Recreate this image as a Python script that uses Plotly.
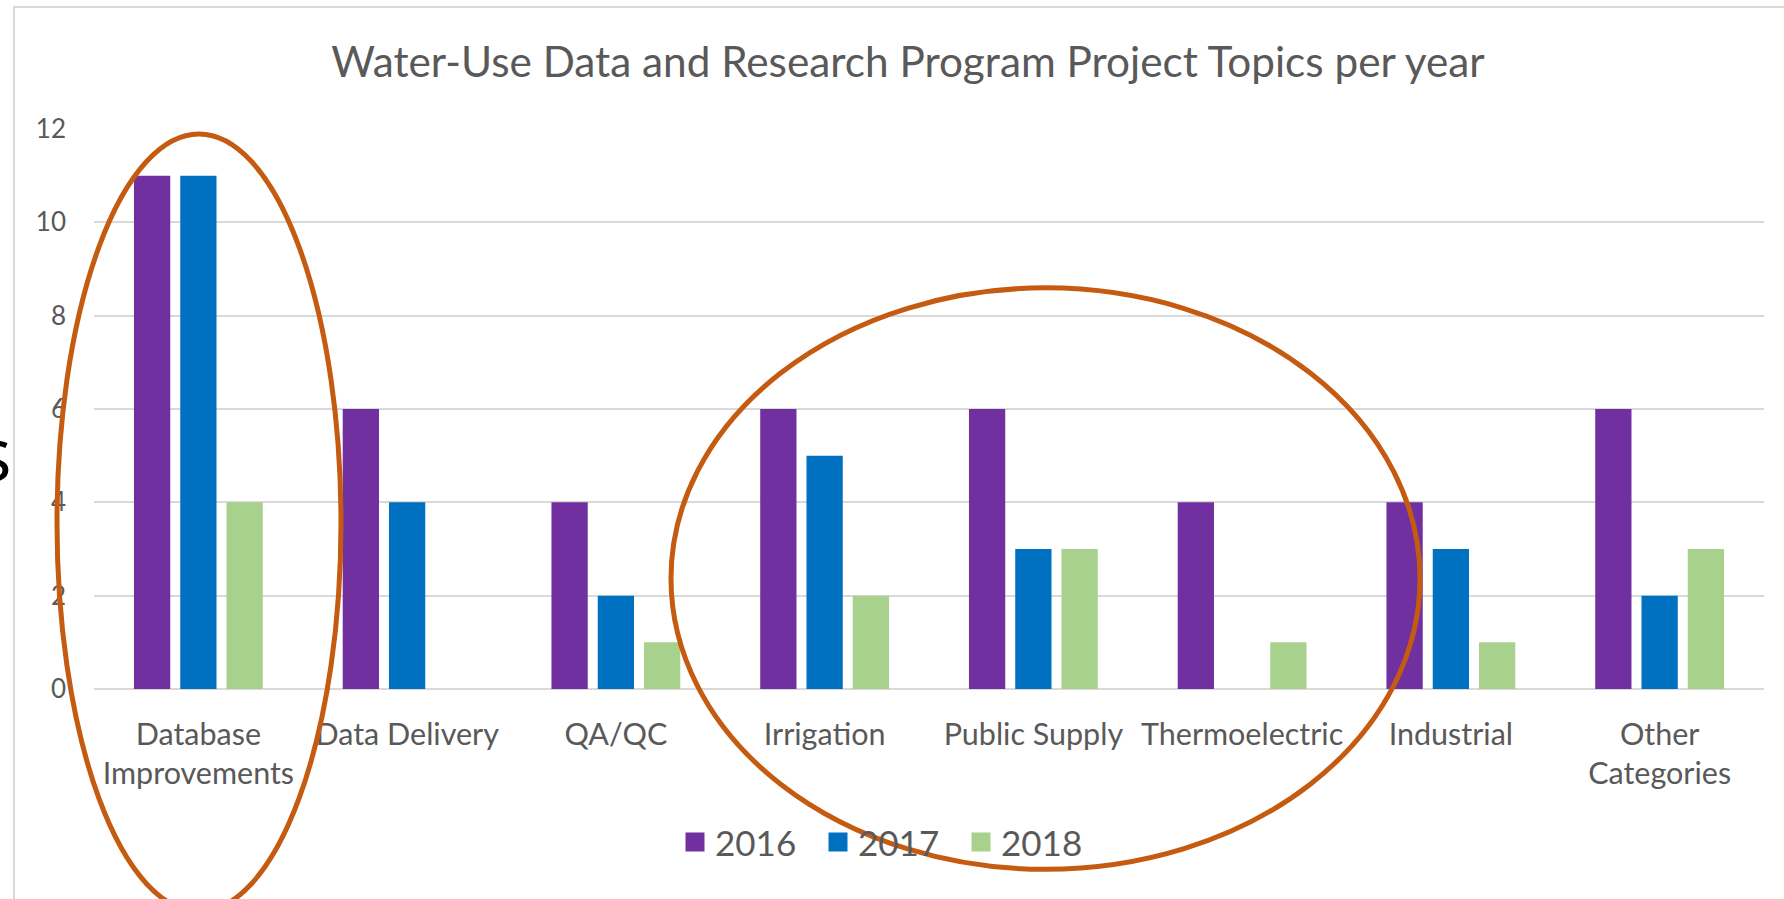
import plotly.graph_objects as go

categories = ["Database<br>Improvements", "Data Delivery", "QA/QC", "Irrigation",
              "Public Supply", "Thermoelectric", "Industrial", "Other<br>Categories"]
years = ["2016", "2017", "2018"]
v2016 = [11, 6, 4, 6, 6, 4, 4, 6]
v2017 = [11, 4, 2, 5, 3, 0, 3, 2]
v2018 = [4, 0, 1, 2, 3, 1, 1, 3]
colors = ["#7030A0", "#0070C0", "#A9D18E"]
title_text = "Water-Use Data and Research Program Project Topics per year"

FONT = "Lato"
TXT = "#595959"
W, H = 1784, 899
L, R, T, B = 94, 1764, 129, 689.5  # plot area in px

def px_x(x):
    return (x - L) / (R - L)

def px_y(y):
    return (B - y) / (B - T)

fig = go.Figure()
for name, vals, col in zip(years, [v2016, v2017, v2018], colors):
    fig.add_trace(go.Bar(x=categories, y=vals, name=name, marker_color=col,
                         marker_line_width=0, showlegend=False))
    fig.add_trace(go.Scatter(x=[None], y=[None], mode="markers", name=name,
                             marker=dict(symbol="square", size=16, color=col,
                                         line=dict(color=col, width=3)),
                             showlegend=True))

shapes = [
    # chart border
    dict(type="rect", xref="paper", yref="paper", x0=px_x(14), x1=px_x(1900),
         y0=px_y(1000), y1=px_y(7), line=dict(color="#D9D9D9", width=2),
         fillcolor="rgba(0,0,0,0)", layer="below"),
    # ellipses
    dict(type="circle", xref="paper", yref="paper", x0=px_x(57), x1=px_x(341),
         y0=px_y(912), y1=px_y(134), line=dict(color="#C55A11", width=5), layer="above"),
    dict(type="circle", xref="paper", yref="paper", x0=px_x(671), x1=px_x(1420),
         y0=px_y(870), y1=px_y(288), line=dict(color="#C55A11", width=5), layer="above"),
]

fig.update_layout(
    width=W, height=H,
    margin=dict(l=L, r=W - R, t=T, b=H - B, pad=0),
    paper_bgcolor="white", plot_bgcolor="white",
    font=dict(family=FONT, color=TXT),
    title=dict(text=title_text, x=px_x(908), xref="paper", xanchor="center",
               y=1 - 62.6 / H, yanchor="middle", font=dict(size=42.3, color=TXT, family=FONT)),
    barmode="group", bargap=0.335, bargroupgap=0.216,
    xaxis=dict(showgrid=False, showline=False, ticks="", ticklabelstandoff=24,
               tickfont=dict(size=30.5, color=TXT)),
    yaxis=dict(range=[0, 12], dtick=2, showgrid=True, gridcolor="#D9D9D9", gridwidth=2,
               zeroline=True, zerolinecolor="#D9D9D9", zerolinewidth=2,
               showline=False, ticks="", ticklabelstandoff=27, tickfont=dict(size=26, color=TXT)),
    legend=dict(orientation="h", x=px_x(675), xanchor="left", y=px_y(843), yanchor="middle",
                font=dict(size=35, color=TXT, family=FONT), entrywidth=98, entrywidthmode="pixels",
                bgcolor="rgba(0,0,0,0)"),
    shapes=shapes,
    annotations=[dict(text="s", xref="paper", yref="paper", x=px_x(13.5), y=px_y(452),
                      xanchor="right", yanchor="middle", showarrow=False,
                      font=dict(size=75, color="black", family="Open Sans"))],
)

fig.write_html("out.html", config={"displayModeBar": False},
               post_script="document.body.style.margin='0';")
